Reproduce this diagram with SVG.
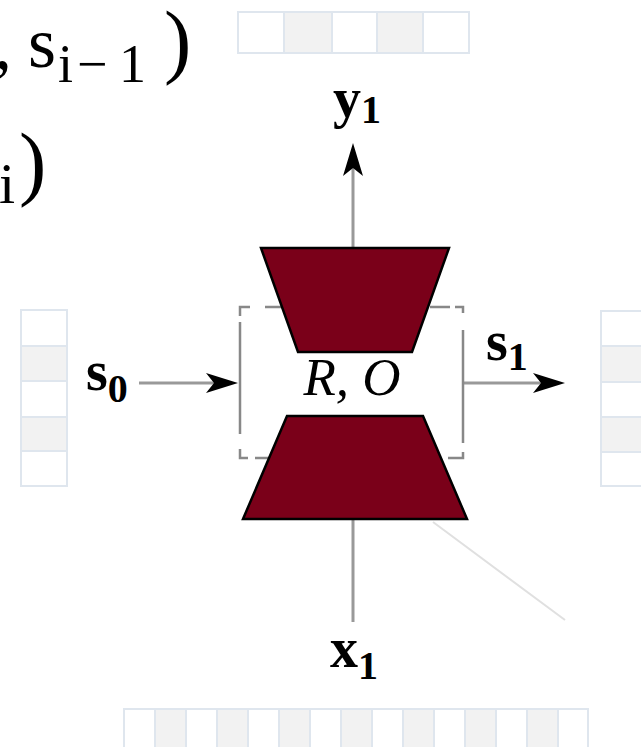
<svg xmlns="http://www.w3.org/2000/svg" width="641" height="747" viewBox="0 0 641 747">
<style>
.cw{fill:#ffffff;stroke:#dfe6ee;stroke-width:2}
.cg{fill:#f2f2f2;stroke:#dfe6ee;stroke-width:2}
.trap{fill:#7a0019;stroke:#000;stroke-width:2.5;stroke-linejoin:miter}
.box{fill:none;stroke:#888;stroke-width:2.5}
.conn{fill:none;stroke:#999;stroke-width:3}
.head{fill:#000;stroke:none}
.lbl{font-family:"Liberation Serif",serif;font-weight:bold;fill:#000}
.math{font-family:"Liberation Serif",serif;fill:#000}
</style>

<g id="top-text">
<text class="math" x="-6" y="68" font-size="72">,</text>
<text class="math" x="28" y="67" font-size="72">s</text>
<text class="math" x="58" y="82" font-size="54">i</text>
<text class="math" x="77" y="82" font-size="54">−</text>
<text class="math" x="119" y="82" font-size="54">1</text>
<text class="math" x="164" y="68" font-size="82">)</text>
<text class="math" x="-1" y="203" font-size="58">i</text>
<text class="math" x="19" y="190" font-size="82">)</text>
</g>

<g id="grid-top">
<rect class="cw" x="238" y="12" width="46" height="41"/>
<rect class="cg" x="284" y="12" width="48" height="41"/>
<rect class="cw" x="332" y="12" width="45" height="41"/>
<rect class="cg" x="377" y="12" width="46" height="41"/>
<rect class="cw" x="423" y="12" width="46" height="41"/>
</g>

<g id="grid-left">
<rect class="cw" x="21" y="310" width="46" height="36"/>
<rect class="cg" x="21" y="346" width="46" height="35"/>
<rect class="cw" x="21" y="381" width="46" height="36"/>
<rect class="cg" x="21" y="417" width="46" height="34"/>
<rect class="cw" x="21" y="451" width="46" height="35"/>
</g>

<g id="grid-right">
<rect class="cw" x="601" y="311" width="46" height="35"/>
<rect class="cg" x="601" y="346" width="46" height="36"/>
<rect class="cw" x="601" y="382" width="46" height="35"/>
<rect class="cg" x="601" y="417" width="46" height="35"/>
<rect class="cw" x="601" y="452" width="46" height="34"/>
</g>

<g id="grid-bottom">
<rect class="cw" x="124" y="709" width="31" height="50"/>
<rect class="cg" x="155" y="709" width="31" height="50"/>
<rect class="cw" x="186" y="709" width="31" height="50"/>
<rect class="cg" x="217" y="709" width="31" height="50"/>
<rect class="cw" x="248" y="709" width="31" height="50"/>
<rect class="cg" x="279" y="709" width="31" height="50"/>
<rect class="cw" x="310" y="709" width="31" height="50"/>
<rect class="cg" x="341" y="709" width="31" height="50"/>
<rect class="cw" x="372" y="709" width="31" height="50"/>
<rect class="cg" x="403" y="709" width="31" height="50"/>
<rect class="cw" x="434" y="709" width="31" height="50"/>
<rect class="cg" x="465" y="709" width="31" height="50"/>
<rect class="cw" x="496" y="709" width="31" height="50"/>
<rect class="cg" x="527" y="709" width="31" height="50"/>
<rect class="cw" x="558" y="709" width="30" height="50"/>
</g>

<g id="connectors">
<line x1="433" y1="522" x2="565" y2="620" stroke="#e0e0e0" stroke-width="2"/>
<line class="conn" x1="353" y1="248" x2="353" y2="168"/>
<path class="head" d="M353,143 L363,176 L353,168 L343,176 Z"/>
<line class="conn" x1="353" y1="519" x2="353" y2="622"/>
<line class="conn" x1="139" y1="383" x2="215" y2="383"/>
<path class="head" d="M238,383 L206,393 L214,383 L206,373 Z"/>
<line class="conn" x1="463" y1="383" x2="542" y2="383"/>
<path class="head" d="M565,383 L533,393 L541,383 L533,373 Z"/>
</g>

<g id="cell">
<path class="box" d="M240,316 V307 H250 M265,307 H282 M430,307 H450 M455,307 H463 V313 M463,330 V443 M463,452 V458 H448 M269,458 H255 M248,458 H240 V449 M240,434 V322"/>
<polygon class="trap" points="261,248 449,248 412,352 298,352"/>
<polygon class="trap" points="287,416 423,416 467,519 243,519"/>
<text class="math" x="352" y="395" font-size="53" font-style="italic" text-anchor="middle">R, O</text>
</g>

<g id="label-y1">
<text class="lbl" x="333" y="117" font-size="56">y<tspan font-size="40" dy="6">1</tspan></text>
</g>
<g id="label-s0">
<text class="lbl" x="86" y="390" font-size="56">s<tspan font-size="40" dy="12">0</tspan></text>
</g>
<g id="label-s1">
<text class="lbl" x="486" y="360" font-size="56">s<tspan font-size="40" dy="10">1</tspan></text>
</g>
<g id="label-x1">
<text class="lbl" x="330" y="667" font-size="56">x<tspan font-size="40" dy="12">1</tspan></text>
</g>
</svg>
